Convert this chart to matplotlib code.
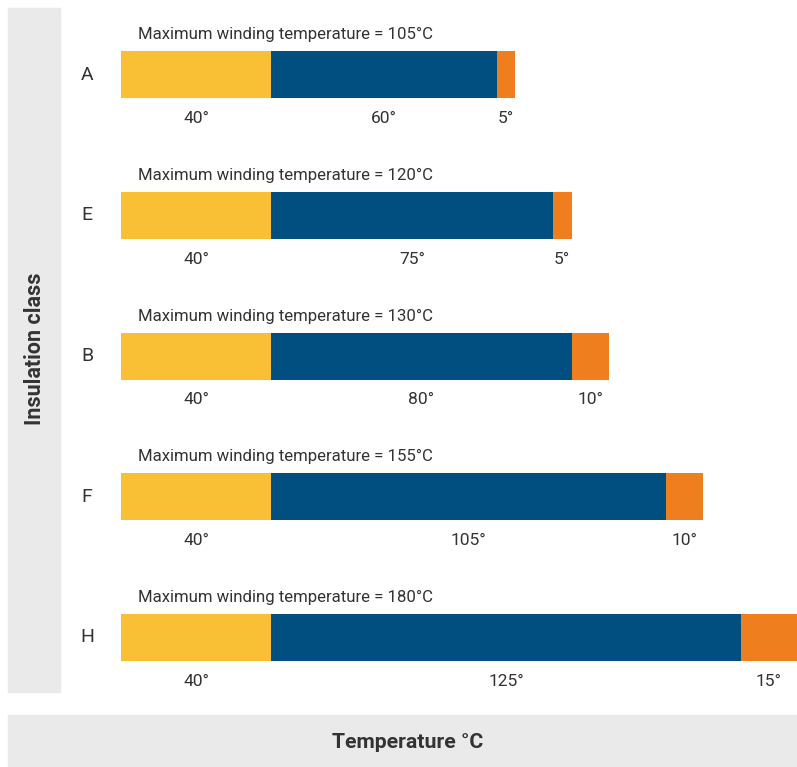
import matplotlib
matplotlib.use("Agg")
import matplotlib.pyplot as plt
from matplotlib.patches import Rectangle
from matplotlib import font_manager

classes = ["A", "E", "B", "F", "H"]
ambient = [40, 40, 40, 40, 40]
rise = [60, 75, 80, 105, 125]
hotspot = [5, 5, 10, 10, 15]
max_temp = [105, 120, 130, 155, 180]

names = {f.name for f in font_manager.fontManager.ttflist}
fam = [f for f in ["Liberation Sans Narrow", "Roboto", "DejaVu Sans"] if f in names]
plt.rcParams["font.family"] = fam

W, H = 797, 767
fig = plt.figure(figsize=(W / 100, H / 100), dpi=100)

def fx(px):
    return px / W

def fy(py):
    return 1 - py / H

# background bands
fig.patches.append(Rectangle((fx(8), fy(692)), fx(60) - fx(8), fy(8) - fy(692),
                             transform=fig.transFigure, color="#E9EAE9", zorder=0))
fig.patches.append(Rectangle((fx(8), fy(767)), fx(797) - fx(8), fy(715) - fy(767),
                             transform=fig.transFigure, color="#E9EAE9", zorder=0))

txtc = "#333333"
fig.text(fx(35), fy(349), "Insulation class", rotation=90, ha="center", va="center",
         fontsize=15.5, fontweight="bold", color=txtc)
fig.text(fx(408), fy(742), "Temperature °C", ha="center", va="center",
         fontsize=15.3, fontweight="bold", color=txtc)

ax = fig.add_axes([fx(121), 0, 1 - fx(121), 1])
ax.set_xlim(0, 180)
step = 140.75
top = -74.5 / step
bot = (H - 74.5) / step
ax.set_ylim(bot, top)
ax.axis("off")

cols = ["#F9BF35", "#004F80", "#EF7F1E"]
pxu = (W - 121) / 180.0
for i, c in enumerate(classes):
    left = 0
    for vals, col in zip([ambient, rise, hotspot], cols):
        v = vals[i]
        ax.barh(i, v, left=left, height=47 / step, color=col, linewidth=0)
        ax.text(left + v / 2, i + 44 / step, f"{v}°", ha="center", va="center",
                fontsize=12.5, color=txtc)
        left += v
    ax.text((138 - 121) / pxu, i - 40 / step,
            f"Maximum winding temperature = {max_temp[i]}°C",
            ha="left", va="center", fontsize=12.1, color=txtc)
    ax.text((87 - 121) / pxu, i, c, ha="center", va="center", fontsize=14,
            color=txtc, clip_on=False)

fig.savefig("out.png", dpi=100)
